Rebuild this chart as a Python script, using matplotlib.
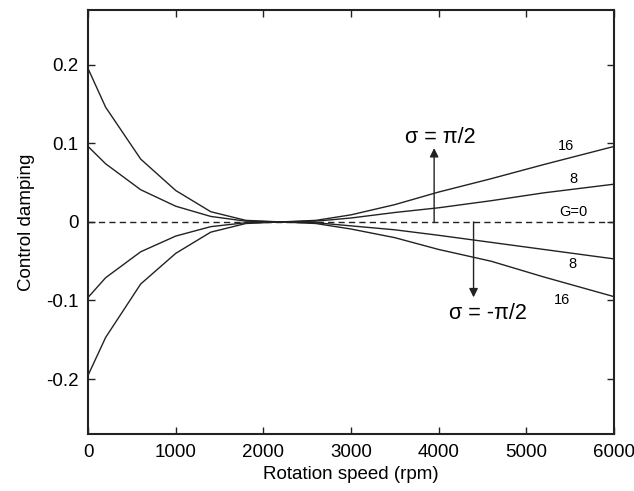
import matplotlib
matplotlib.use("Agg")
import matplotlib.pyplot as plt
import numpy as np

plt.rcParams["font.family"] = ["Liberation Sans", "DejaVu Sans"]

# rotation speed (rpm) sample points
speed = [0, 200, 600, 1000, 1400, 1800, 2200, 2600, 3000, 3500, 4000, 4600, 5200, 6000]

# control damping, sigma = +pi/2
up_g16 = [0.195, 0.146, 0.080, 0.040, 0.013, 0.002, 0.0, 0.002, 0.009, 0.022, 0.038, 0.055, 0.073, 0.096]
up_g8 = [0.096, 0.074, 0.041, 0.020, 0.007, 0.001, 0.0, 0.001, 0.005, 0.012, 0.018, 0.027, 0.037, 0.048]
# control damping, sigma = -pi/2
dn_g8 = [-0.096, -0.071, -0.038, -0.018, -0.006, -0.001, 0.0, -0.001, -0.005, -0.010, -0.017, -0.026, -0.035, -0.047]
dn_g16 = [-0.195, -0.147, -0.079, -0.040, -0.013, -0.002, 0.0, -0.002, -0.009, -0.020, -0.035, -0.050, -0.070, -0.095]

fig, ax = plt.subplots(figsize=(6.34, 4.91), dpi=100)
fig.subplots_adjust(left=0.139, right=0.968, top=0.980, bottom=0.116)

for series in (up_g16, up_g8, dn_g8, dn_g16):
    ax.plot(speed, series, color="#222222", lw=1.0)
ax.axhline(0, color="#222222", lw=1.0, dashes=(4.5, 3))

ax.set_xlim(0, 6000)
ax.set_ylim(-0.27, 0.27)
ax.set_xticks([0, 1000, 2000, 3000, 4000, 5000, 6000])
ax.set_yticks([-0.2, -0.1, 0, 0.1, 0.2])
ax.set_yticklabels(["-0.2", "-0.1", "0", "0.1", "0.2"])
ax.tick_params(direction="in", length=5, width=1, top=True, right=True,
               labelsize=13.5, pad=7, color="#222222")
for s in ax.spines.values():
    s.set_linewidth(1.5)
    s.set_color("#222222")

ax.set_xlabel("Rotation speed (rpm)", fontsize=13.5, labelpad=4)
ax.set_ylabel("Control damping", fontsize=13.5, labelpad=8)

arrow = dict(arrowstyle="-|>", color="#222222", lw=1.0, mutation_scale=13, shrinkA=0, shrinkB=0)
ax.annotate("", xy=(3950, 0.094), xytext=(3950, 0.0), arrowprops=arrow)
ax.annotate("", xy=(4400, -0.096), xytext=(4400, 0.0), arrowprops=arrow)
ax.text(4020, 0.108, "σ = π/2", fontsize=15.5, ha="center", va="center")
ax.text(4560, -0.116, "σ = -π/2", fontsize=15.5, ha="center", va="center")

ax.text(5460, 0.097, "16", fontsize=10.5, ha="center", va="center")
ax.text(5535, 0.055, "8", fontsize=10.5, ha="center", va="center")
ax.text(5535, 0.0125, "G=0", fontsize=10.5, ha="center", va="center")
ax.text(5530, -0.054, "8", fontsize=10.5, ha="center", va="center")
ax.text(5405, -0.100, "16", fontsize=10.5, ha="center", va="center")

fig.savefig("out.png", dpi=100)
